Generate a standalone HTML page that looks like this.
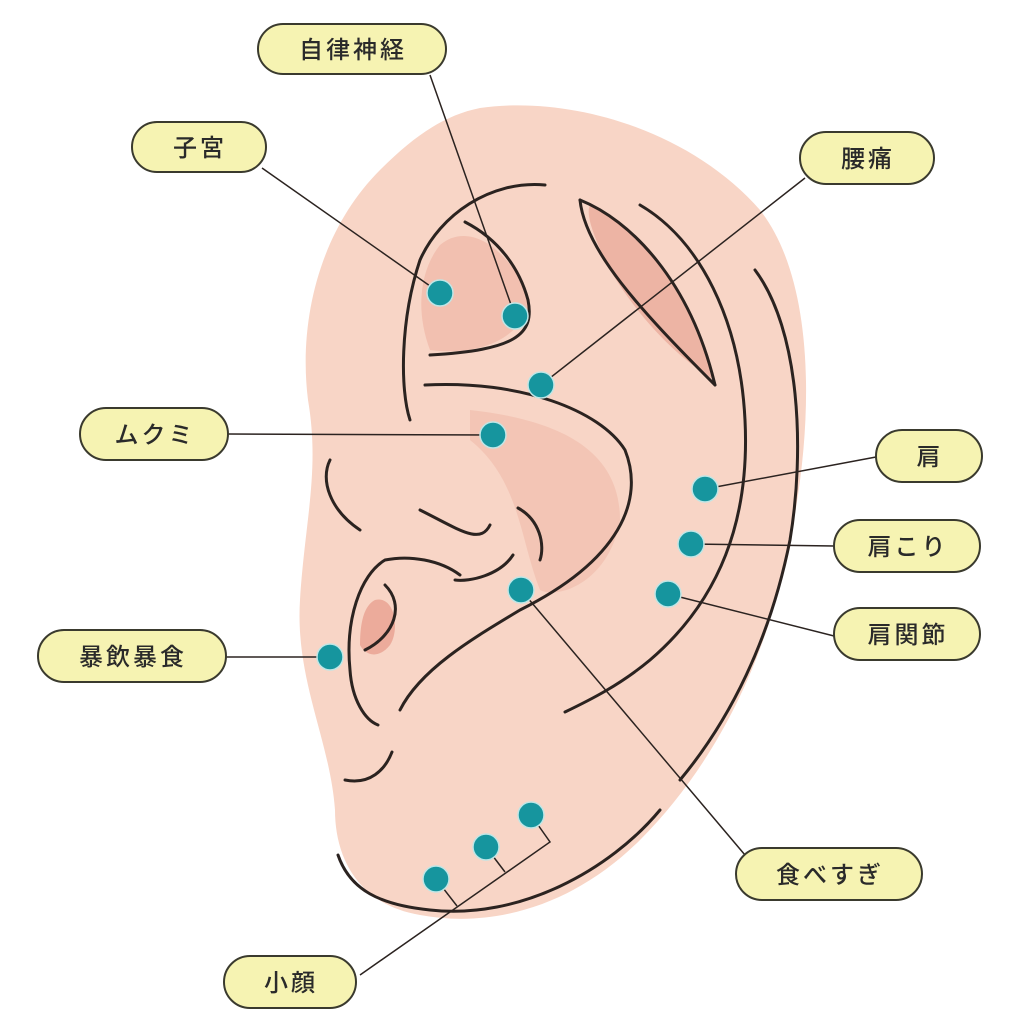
<!DOCTYPE html>
<html><head><meta charset="utf-8"><style>
html,body{margin:0;padding:0;background:#fff}
svg{display:block}
text{font-family:"Liberation Sans","Noto Sans CJK JP",sans-serif;font-size:24px;font-weight:500;fill:#2a2a2a;letter-spacing:3px}
</style></head><body>
<svg width="1024" height="1024" viewBox="0 0 1024 1024" xmlns="http://www.w3.org/2000/svg">
<path d="M480,108 C570,95 690,130 760,210 C815,280 815,420 790,540 C770,650 720,760 640,840 C580,900 500,930 420,915 C360,905 335,860 335,810 C330,740 295,680 300,600 C305,520 320,470 308,400 C298,320 320,230 380,170 C415,135 445,115 480,108 Z" fill="#f8d5c6"/>
<path d="M440,245 C470,220 510,250 530,300 C520,345 470,355 430,350 C415,310 420,270 440,245Z" fill="#efb6a6" opacity="0.7"/>
<path d="M590,205 C640,230 690,290 715,380 C680,360 640,320 610,270 C595,240 585,215 590,205Z" fill="#eaa898" opacity="0.75"/>
<path d="M470,410 C560,420 620,450 620,520 C610,580 560,600 540,590 C520,540 520,480 470,440Z" fill="#efb8a8" opacity="0.55"/>
<path d="M375,600 C395,595 400,630 390,645 C378,660 365,655 360,645 C360,620 365,605 375,600Z" fill="#e9a090" opacity="0.8"/>
<g fill="none" stroke="#2b2320" stroke-width="3" stroke-linecap="round">
<path d="M545,185 C490,180 440,215 420,260 C400,320 400,390 410,420"/>
<path d="M465,222 C500,240 520,270 528,300 C535,335 515,350 430,355"/>
<path d="M580,200 C630,220 690,280 715,385"/>
<path d="M580,200 C585,250 640,310 715,385"/>
<path d="M640,205 C700,240 740,320 745,420 C750,520 720,600 650,660 C620,685 590,700 565,712"/>
<path d="M755,270 C800,330 805,450 790,540 C770,640 730,720 680,780"/>
<path d="M425,385 C520,380 600,410 625,450 C645,500 620,560 520,610 C470,640 420,670 400,710"/>
<path d="M330,460 C320,480 330,510 360,530"/>
<path d="M420,510 C460,530 480,545 490,525"/>
<path d="M518,508 C540,520 545,545 540,560"/>
<path d="M513,555 C500,575 470,582 455,580"/>
<path d="M460,575 C440,560 410,555 385,560 C360,575 345,620 350,670 C352,700 365,720 378,725"/>
<path d="M385,585 C405,605 395,635 365,650"/>
<path d="M392,752 C385,770 370,785 345,780"/>
<path d="M338,855 C350,890 380,905 430,910 C520,920 610,870 660,810"/>
</g>
<g stroke="#2b2320" stroke-width="1.5" fill="none">
<line x1="430" y1="75" x2="515" y2="316"/>
<line x1="262" y1="168" x2="440" y2="293"/>
<line x1="805" y1="178" x2="541" y2="385"/>
<line x1="228" y1="434" x2="493" y2="435"/>
<line x1="876" y1="457" x2="705" y2="489"/>
<line x1="834" y1="546" x2="691" y2="544"/>
<line x1="834" y1="636" x2="668" y2="594"/>
<line x1="226" y1="657" x2="330" y2="657"/>
<line x1="745" y1="855" x2="521" y2="590"/>
<polyline points="531,815 550,842 360,975"/>
<line x1="486" y1="847" x2="505" y2="872"/>
<line x1="436" y1="879" x2="457" y2="906"/>
</g>
<g fill="#16959e" stroke="#bfe6e6" stroke-width="1.5">
<circle cx="440" cy="293" r="13"/><circle cx="515" cy="316" r="13"/><circle cx="541" cy="385" r="13"/>
<circle cx="493" cy="435" r="13"/><circle cx="705" cy="489" r="13"/><circle cx="691" cy="544" r="13"/>
<circle cx="668" cy="594" r="13"/><circle cx="521" cy="590" r="13"/><circle cx="330" cy="657" r="13"/>
<circle cx="531" cy="815" r="13"/><circle cx="486" cy="847" r="13"/><circle cx="436" cy="879" r="13"/>
</g>
<g fill="#f6f3b2" stroke="#3a3a2e" stroke-width="2">
<rect x="258" y="24" width="188" height="50" rx="25"/>
<rect x="132" y="122" width="134" height="50" rx="25"/>
<rect x="800" y="132" width="134" height="52" rx="26"/>
<rect x="80" y="408" width="148" height="52" rx="26"/>
<rect x="876" y="430" width="106" height="52" rx="26"/>
<rect x="834" y="520" width="146" height="52" rx="26"/>
<rect x="834" y="608" width="146" height="52" rx="26"/>
<rect x="38" y="630" width="188" height="52" rx="26"/>
<rect x="736" y="848" width="186" height="52" rx="26"/>
<rect x="224" y="956" width="132" height="52" rx="26"/>
</g>
<g text-anchor="middle">
<text x="353" y="58">自律神経</text>
<text x="200" y="156">子宮</text>
<text x="868" y="167">腰痛</text>
<text x="155" y="443">ムクミ</text>
<text x="930" y="465">肩</text>
<text x="908" y="555">肩こり</text>
<text x="908" y="643">肩関節</text>
<text x="133" y="665">暴飲暴食</text>
<text x="830" y="883">食べすぎ</text>
<text x="291" y="991">小顔</text>
</g>
</svg>
</body></html>
